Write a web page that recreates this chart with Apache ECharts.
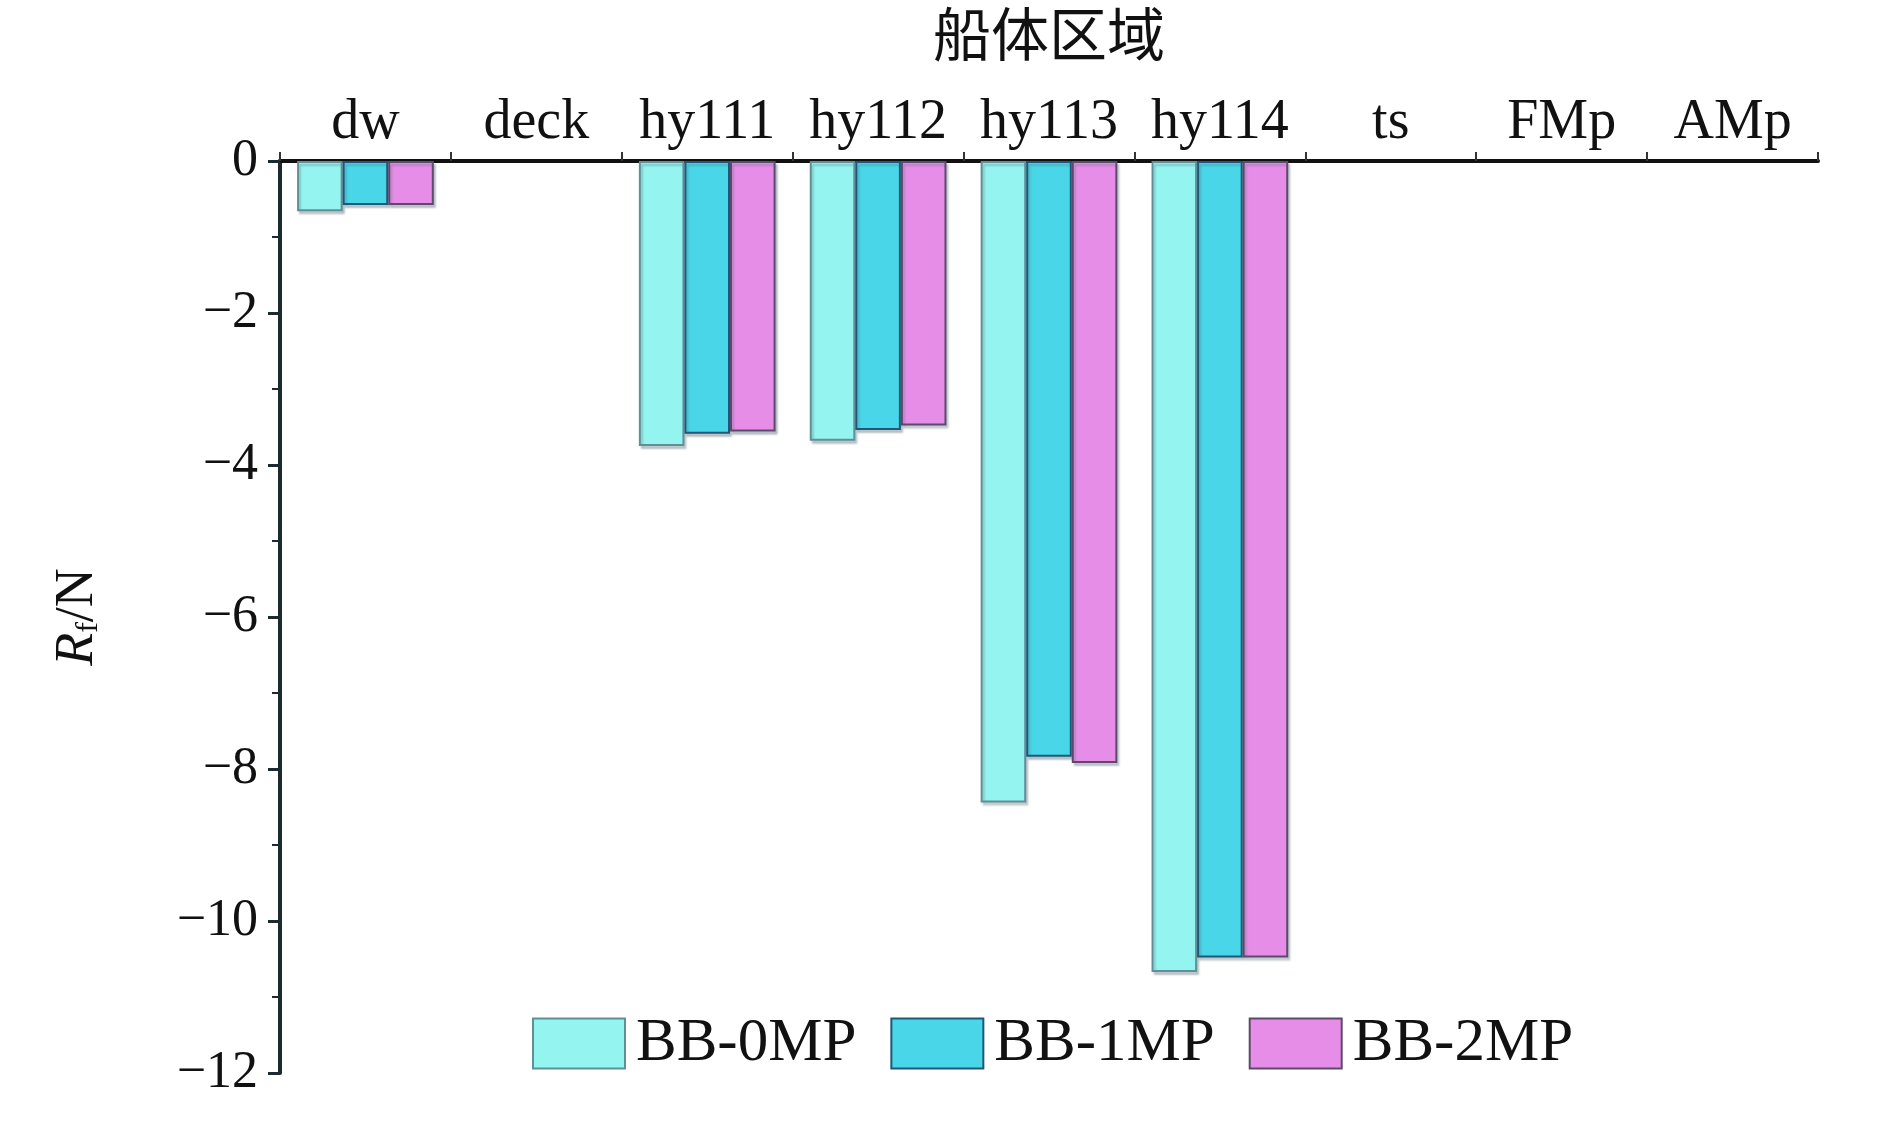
<!DOCTYPE html>
<html>
<head>
<meta charset="utf-8">
<title>船体区域 Rf</title>
<script src="https://cdn.jsdelivr.net/npm/echarts@6/dist/echarts.min.js"></script>
<style>
  html, body { margin: 0; padding: 0; background: #fff; }
  #chart { width: 1890px; height: 1125px; }
</style>
</head>
<body>
<div id="chart"></div>
<script>
  // 船体区域
  var categories = ['dw', 'deck', 'hy111', 'hy112', 'hy113', 'hy114', 'ts', 'FMp', 'AMp'];
  var seriesNames = ['BB-0MP', 'BB-1MP', 'BB-2MP'];
  // Rf/N, null = no bar
  var bb0 = [-0.66, null, -3.75, -3.68, -8.44, -10.67, null, null, null];
  var bb1 = [-0.58, null, -3.59, -3.54, -7.84, -10.48, null, null, null];
  var bb2 = [-0.58, null, -3.56, -3.48, -7.92, -10.48, null, null, null];
  var yTicks = { min: -12, max: 0, interval: 2 };

  var serif = '"Liberation Serif", "Times New Roman", serif';
  var fills = ['#94f5f0', '#48d6e8', '#e68de8'];
  var borders = ['#5f8f97', '#1d5878', '#5c4a6c'];

  var myChart = echarts.init(document.getElementById('chart'));

  function makeBar(i, data) {
    return {
      name: seriesNames[i],
      type: 'bar',
      data: data,
      barGap: '0%',
      barCategoryGap: '20%',
      itemStyle: {
        color: fills[i],
        borderColor: borders[i],
        borderWidth: 2,
        shadowColor: 'rgba(90,110,120,0.35)',
        shadowOffsetX: 2,
        shadowOffsetY: 3,
        shadowBlur: 2
      }
    };
  }

  var option = {
    backgroundColor: '#fff',
    animation: false,
    grid: { left: 280, right: 72, top: 158, bottom: 52 },
    legend: {
      data: seriesNames,
      left: 527,
      top: 1008,
      icon: 'rect',
      itemWidth: 92,
      itemHeight: 50,
      itemGap: 34,
      textStyle: { fontFamily: serif, fontSize: 61, color: '#111', padding: [0, 0, 0, 6] }
    },
    xAxis: {
      type: 'category',
      data: categories,
      position: 'top',
      name: '船体区域',
      nameLocation: 'middle',
      nameGap: 98,
      nameTextStyle: { fontFamily: '"Noto Sans CJK SC", sans-serif', fontSize: 58, color: '#111' },
      axisLine: { onZero: false, lineStyle: { color: '#111', width: 4 } },
      axisTick: { show: true, length: 9, lineStyle: { color: '#333', width: 2 } },
      axisLabel: { interval: 0, fontFamily: serif, fontSize: 56, color: '#111', margin: 10 },
      splitLine: { show: false }
    },
    yAxis: {
      type: 'value',
      min: yTicks.min,
      max: yTicks.max,
      interval: yTicks.interval,
      name: '{i|R}{s|f}{n|/N}',
      nameLocation: 'middle',
      nameGap: 175,
      nameRotate: 90,
      nameTextStyle: {
        fontFamily: serif,
        fontSize: 54,
        color: '#111',
        rich: {
          i: { fontFamily: serif, fontSize: 54, fontStyle: 'italic', color: '#111' },
          s: { fontFamily: serif, fontSize: 32, color: '#111', verticalAlign: 'bottom', padding: [22, 0, 0, 0] },
          n: { fontFamily: serif, fontSize: 54, color: '#111' }
        }
      },
      axisLine: { show: true, lineStyle: { color: '#1a2a30', width: 4 } },
      axisTick: { show: true, length: 12, lineStyle: { color: '#1a2a30', width: 3 } },
      minorTick: { show: true, splitNumber: 2, length: 8, lineStyle: { color: '#1a2a30', width: 2 } },
      axisLabel: {
        fontFamily: serif,
        fontSize: 52,
        color: '#111',
        margin: 22,
        formatter: function (v) { return String(v).replace('-', '\u2212'); }
      },
      splitLine: { show: false }
    },
    series: [makeBar(0, bb0), makeBar(1, bb1), makeBar(2, bb2)]
  };

  myChart.setOption(option);
  window.addEventListener('resize', function () {
    myChart.resize();
  });
</script>
</body>
</html>
